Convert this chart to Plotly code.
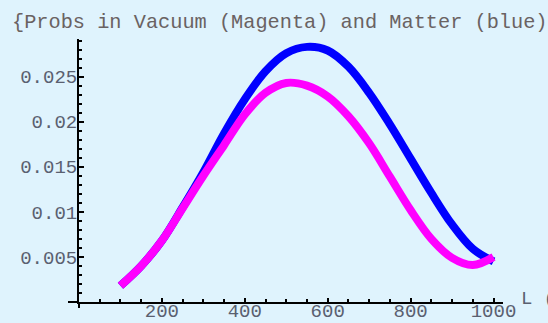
import plotly.graph_objects as go

# ---- data ----
L_vals = [100, 150, 200, 250, 300, 350, 400, 450, 500, 550,
          600, 650, 700, 750, 800, 850, 900, 950, 1000]
prob_vacuum = [0.0018, 0.0040, 0.0068, 0.0104, 0.0140, 0.0174, 0.0208, 0.0232, 0.0243, 0.0240,
               0.0228, 0.0206, 0.0176, 0.0139, 0.0102, 0.0070, 0.0049, 0.0041, 0.0050]
prob_matter = [0.0018, 0.0040, 0.0068, 0.0105, 0.0144, 0.0187, 0.0225, 0.0256, 0.0276, 0.0283,
               0.0279, 0.0261, 0.0232, 0.0197, 0.0159, 0.0121, 0.0086, 0.0059, 0.0045]

x_tick_vals = [200, 400, 600, 800, 1000]
x_tick_text = ["200", "400", "600", "800", "1000"]
y_tick_vals = [0.005, 0.01, 0.015, 0.02, 0.025]
y_tick_text = ["0.005", "0.01", "0.015", "0.02", "0.025"]
x_minor = [v for v in range(50, 1001, 50) if v not in x_tick_vals]
y_minor = [round(i * 0.001, 3) for i in range(1, 30) if i % 5 != 0]

title_text = "{Probs in Vacuum (Magenta) and Matter (blue)"
x_label = "L (km)"

BG = "#DFF3FD"
TXT = "#5a6070"
FONT = "Liberation Mono"

W, H = 548, 323
left, right, top, bottom = 79, 503, 39, 302

fig = go.Figure()
fig.add_trace(go.Scatter(x=L_vals, y=prob_matter, mode="lines",
                         line=dict(color="#0000FF", width=8, shape="spline"),
                         showlegend=False))
fig.add_trace(go.Scatter(x=L_vals, y=prob_vacuum, mode="lines",
                         line=dict(color="#FF00FF", width=8, shape="spline"),
                         showlegend=False))

px_per_x = 0.4145
px_per_y = 9015.0
x_max = (right - left) / px_per_x
y_max = (bottom - top) / px_per_y

fig.update_layout(
    width=W, height=H,
    margin=dict(l=left, r=W - right, t=top, b=H - bottom, pad=0, autoexpand=False),
    paper_bgcolor=BG, plot_bgcolor=BG,
    font=dict(family=FONT, size=19, color=TXT),
    title=dict(text=title_text, xref="container", yref="container",
               x=12 / W, xanchor="left", y=1 - 21 / H, yanchor="middle",
               font=dict(family=FONT, size=20.3, color="#6a6262")),
    xaxis=dict(range=[0, x_max], showgrid=False, zeroline=False, automargin=False,
               showline=True, linecolor="black", linewidth=2,
               ticks="inside", ticklen=4, tickwidth=1.5, tickcolor="black",
               tickmode="array", tickvals=x_tick_vals, ticktext=x_tick_text,
               tickfont=dict(family=FONT, size=19, color=TXT),
               ticklabelstandoff=-10,
               minor=dict(tickmode="array", tickvals=x_minor, ticks="inside",
                          ticklen=3, tickwidth=1.5, tickcolor="black")),
    yaxis=dict(range=[0, y_max], showgrid=False, zeroline=False, automargin=False,
               showline=True, linecolor="black", linewidth=2,
               ticks="inside", ticklen=5, tickwidth=1.5, tickcolor="black",
               tickmode="array", tickvals=y_tick_vals, ticktext=y_tick_text,
               tickfont=dict(family=FONT, size=19, color=TXT),
               ticklabelstandoff=-4,
               minor=dict(tickmode="array", tickvals=y_minor, ticks="inside",
                          ticklen=3, tickwidth=1.5, tickcolor="black")),
)

# axis line extensions past the origin (Mathematica-style crossing axes)
pw, ph = right - left, bottom - top
fig.add_shape(type="line", xref="paper", yref="paper",
              x0=(68 - left) / pw, x1=0, y0=0, y1=0,
              line=dict(color="black", width=2))
fig.add_shape(type="line", xref="paper", yref="paper",
              x0=0, x1=0, y0=-(308 - bottom) / ph, y1=0,
              line=dict(color="black", width=2))

fig.add_annotation(text=x_label, xref="paper", yref="paper",
                   x=(519 - left) / pw, xanchor="left",
                   y=(bottom - 299) / ph, yanchor="middle",
                   showarrow=False, font=dict(family=FONT, size=19, color=TXT))

fig.write_html("out.html")
